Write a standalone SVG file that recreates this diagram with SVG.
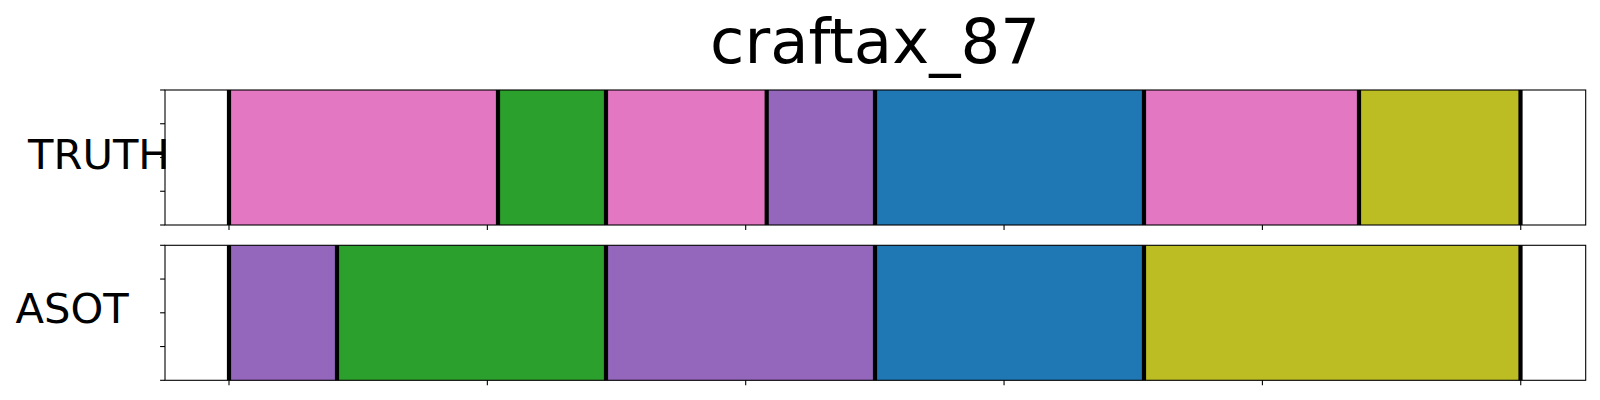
<svg xmlns="http://www.w3.org/2000/svg" width="1600" height="400" viewBox="0 0 1600 400">
<style>
.lbl{font-family:"DejaVu Sans",sans-serif;fill:#000}
.pink{fill:#e377c2}.green{fill:#2ca02c}.purple{fill:#9467bd}.blue{fill:#1f77b4}.olive{fill:#bcbd22}
.bnd{stroke:#000;stroke-width:4.2}
.spine{fill:none;stroke:#000;stroke-width:1.1}
.tick{stroke:#000;stroke-width:1.1}
</style>
<rect width="1600" height="400" fill="#fff"/>
<text class="lbl" x="875" y="63" font-size="62.5" text-anchor="middle">craftax_87</text>
<g id="truth">
<rect class="pink" x="229" y="90" width="269" height="135"/>
<rect class="green" x="498" y="90" width="108" height="135"/>
<rect class="pink" x="606" y="90" width="160.7" height="135"/>
<rect class="purple" x="766.7" y="90" width="108.3" height="135"/>
<rect class="blue" x="875" y="90" width="269" height="135"/>
<rect class="pink" x="1144" y="90" width="215" height="135"/>
<rect class="olive" x="1359" y="90" width="161.5" height="135"/>
<g class="bnd">
<line x1="229" y1="90" x2="229" y2="225"/><line x1="498" y1="90" x2="498" y2="225"/>
<line x1="606" y1="90" x2="606" y2="225"/><line x1="766.7" y1="90" x2="766.7" y2="225"/>
<line x1="875" y1="90" x2="875" y2="225"/><line x1="1144" y1="90" x2="1144" y2="225"/>
<line x1="1359" y1="90" x2="1359" y2="225"/><line x1="1520.5" y1="90" x2="1520.5" y2="225"/>
</g>
<rect class="spine" x="165" y="90" width="1420.7" height="135"/>
<g class="tick">
<line x1="160.1" y1="90" x2="165" y2="90"/><line x1="160.1" y1="123.75" x2="165" y2="123.75"/>
<line x1="160.1" y1="157.5" x2="165" y2="157.5"/><line x1="160.1" y1="191.25" x2="165" y2="191.25"/>
<line x1="160.1" y1="225" x2="165" y2="225"/>
<line x1="229" y1="225" x2="229" y2="229.9"/><line x1="487.35" y1="225" x2="487.35" y2="229.9"/>
<line x1="745.7" y1="225" x2="745.7" y2="229.9"/><line x1="1004.05" y1="225" x2="1004.05" y2="229.9"/>
<line x1="1262.4" y1="225" x2="1262.4" y2="229.9"/><line x1="1520.75" y1="225" x2="1520.75" y2="229.9"/>
</g>
<text class="lbl" x="28" y="169.3" font-size="41.67">TRUTH</text>
</g>
<g id="asot">
<rect class="purple" x="229" y="245.3" width="108" height="135"/>
<rect class="green" x="337" y="245.3" width="269" height="135"/>
<rect class="purple" x="606" y="245.3" width="269" height="135"/>
<rect class="blue" x="875" y="245.3" width="269" height="135"/>
<rect class="olive" x="1144" y="245.3" width="376.5" height="135"/>
<g class="bnd">
<line x1="229" y1="245.3" x2="229" y2="380.3"/><line x1="337" y1="245.3" x2="337" y2="380.3"/>
<line x1="606" y1="245.3" x2="606" y2="380.3"/><line x1="875" y1="245.3" x2="875" y2="380.3"/>
<line x1="1144" y1="245.3" x2="1144" y2="380.3"/><line x1="1520.5" y1="245.3" x2="1520.5" y2="380.3"/>
</g>
<rect class="spine" x="165" y="245.3" width="1420.7" height="135"/>
<g class="tick">
<line x1="160.1" y1="245.3" x2="165" y2="245.3"/><line x1="160.1" y1="279.05" x2="165" y2="279.05"/>
<line x1="160.1" y1="312.8" x2="165" y2="312.8"/><line x1="160.1" y1="346.55" x2="165" y2="346.55"/>
<line x1="160.1" y1="380.3" x2="165" y2="380.3"/>
<line x1="229" y1="380.3" x2="229" y2="385.2"/><line x1="487.35" y1="380.3" x2="487.35" y2="385.2"/>
<line x1="745.7" y1="380.3" x2="745.7" y2="385.2"/><line x1="1004.05" y1="380.3" x2="1004.05" y2="385.2"/>
<line x1="1262.4" y1="380.3" x2="1262.4" y2="385.2"/><line x1="1520.75" y1="380.3" x2="1520.75" y2="385.2"/>
</g>
<text class="lbl" x="15.5" y="323.3" font-size="41.67">ASOT</text>
</g>
<g id="connectors"/>
</svg>
